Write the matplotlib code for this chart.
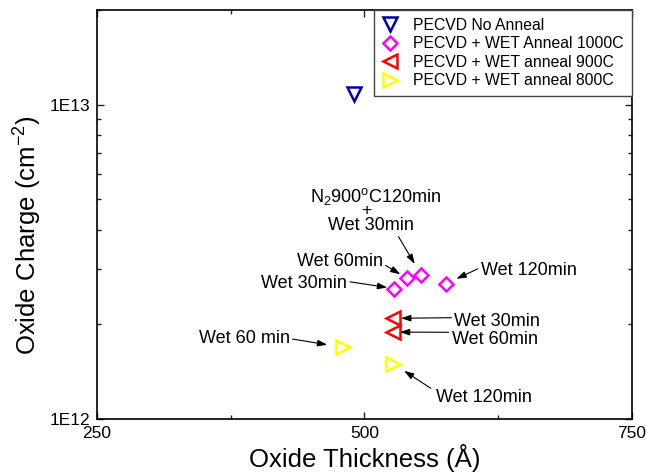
import numpy as np
import matplotlib
matplotlib.use('Agg')
import matplotlib.pyplot as plt
from matplotlib.ticker import FixedLocator, FuncFormatter, LogLocator, NullFormatter

plt.rcParams['font.family'] = ['Liberation Sans', 'DejaVu Sans']
plt.rcParams['mathtext.fontset'] = 'custom'
plt.rcParams['mathtext.rm'] = 'Liberation Sans'
plt.rcParams['mathtext.it'] = 'Liberation Sans:italic'
plt.rcParams['mathtext.bf'] = 'Liberation Sans:bold'

# data (thickness in A, charge in cm^-2)
no_anneal_x = [490]
no_anneal_y = [1.08e13]
wet1000_x = [528, 540, 553, 576]
wet1000_y = [2.60e12, 2.80e12, 2.88e12, 2.69e12]
wet900_x = [527, 527]
wet900_y = [2.09e12, 1.89e12]
wet800_x = [480, 527]
wet800_y = [1.69e12, 1.50e12]

labels = ['PECVD No Anneal', 'PECVD + WET Anneal 1000C',
          'PECVD + WET anneal 900C', 'PECVD + WET anneal 800C']

fig = plt.figure(figsize=(6.46, 4.72), dpi=100)
ax = fig.add_axes([0.1502, 0.1123, 0.8276, 0.8665])

mew = 1.8
ax.plot(no_anneal_x, no_anneal_y, linestyle='none', marker='v', ms=9.5,
        mfc='none', mec='#0000a0', mew=mew, label=labels[0])
ax.plot(wet1000_x, wet1000_y, linestyle='none', marker='D', ms=7.5,
        mfc='none', mec='#ff00ff', mew=mew, label=labels[1])
ax.plot(wet900_x, wet900_y, linestyle='none', marker='<', ms=9.5,
        mfc='none', mec='#ff0000', mew=mew, label=labels[2])
ax.plot(wet800_x, wet800_y, linestyle='none', marker='>', ms=9.5,
        mfc='none', mec='#ffff00', mew=mew, label=labels[3])

ax.set_yscale('log')
ax.set_xlim(250, 750)
ax.set_ylim(1e12, 2e13)

ax.xaxis.set_major_locator(FixedLocator([250, 500, 750]))
ax.xaxis.set_minor_locator(FixedLocator([375, 625]))
ax.yaxis.set_major_locator(FixedLocator([1e12, 1e13]))
ax.yaxis.set_major_formatter(FuncFormatter(lambda v, p: '1E%d' % round(np.log10(v))))
ax.yaxis.set_minor_locator(LogLocator(base=10, subs=np.arange(2, 10)))
ax.yaxis.set_minor_formatter(NullFormatter())

ax.tick_params(which='both', direction='in', top=True, right=True,
               labelsize=12.5, pad=5, width=1.0, color='#222222')
ax.tick_params(which='major', length=5)
ax.tick_params(which='minor', length=3)
for s in ax.spines.values():
    s.set_linewidth(1.2)

ax.set_xlabel('Oxide Thickness (Å)', fontsize=18.5, labelpad=2)
ax.set_ylabel('Oxide Charge (cm$^{-2}$)', fontsize=18.5, labelpad=4, y=0.45)

leg = ax.legend(loc='upper right', bbox_to_anchor=(1, 1), borderaxespad=0,
                fontsize=11.3, fancybox=False, framealpha=1, edgecolor='#444444',
                labelspacing=0.22, handlelength=1.0, handletextpad=1.0,
                borderpad=0.5)
leg.get_frame().set_linewidth(1.0)

# annotations: (x list, y list, index, text, dx px, dy px, ha, relpos, shrinkA, shrinkB)
notes = [
    (wet1000_x, wet1000_y, 2, 'Wet 30min', -50, 49.3, 'center', (0.8, 0.0), 0, 8.9),
    (wet1000_x, wet1000_y, 1, 'Wet 60min', -67.4, 17, 'center', (1, 0.37), 0, 5.7),
    (wet1000_x, wet1000_y, 0, 'Wet 30min', -90, 4.6, 'center', (1, 0.65), 0, 5.1),
    (wet1000_x, wet1000_y, 3, 'Wet 120min', 35, 13.7, 'left', (0, 0.66), 0, 8.6),
    (wet900_x, wet900_y, 0, 'Wet 30min', 61, -2.7, 'left', (0, 0.7), 0, 5.6),
    (wet900_x, wet900_y, 1, 'Wet 60min', 58.3, -7, 'left', (0, 0.9), 0, 4.75),
    (wet800_x, wet800_y, 0, 'Wet 60 min', -53.2, 9.3, 'right', (1, 0.47), 0, 11.4),
    (wet800_x, wet800_y, 1, 'Wet 120min', 42.7, -34, 'left', (0, 0.85), 2, 9.4),
]
for xs, ys, i, txt, dx, dy, ha, rp, sa, sb in notes:
    ax.annotate(txt, xy=(xs[i], ys[i]), xytext=(dx, dy), textcoords='offset pixels',
                ha=ha, va='center', fontsize=13,
                arrowprops=dict(arrowstyle='-|>,head_length=0.45,head_width=0.15',
                                color='black', lw=0.8, relpos=rp,
                                shrinkA=sa, shrinkB=sb))

# the stacked label above the N2 pre-annealed sample
ax.annotate('+', xy=(wet1000_x[2], wet1000_y[2]), xytext=(-54.3, 64.5),
            textcoords='offset pixels', ha='center', va='center', fontsize=12.5)
ax.annotate(r'N$_2$900$^{\mathrm{o}}$C120min', xy=(wet1000_x[2], wet1000_y[2]),
            xytext=(-45.5, 78.5), textcoords='offset pixels', ha='center',
            va='center', fontsize=13)

fig.savefig('out.png', dpi=100)
